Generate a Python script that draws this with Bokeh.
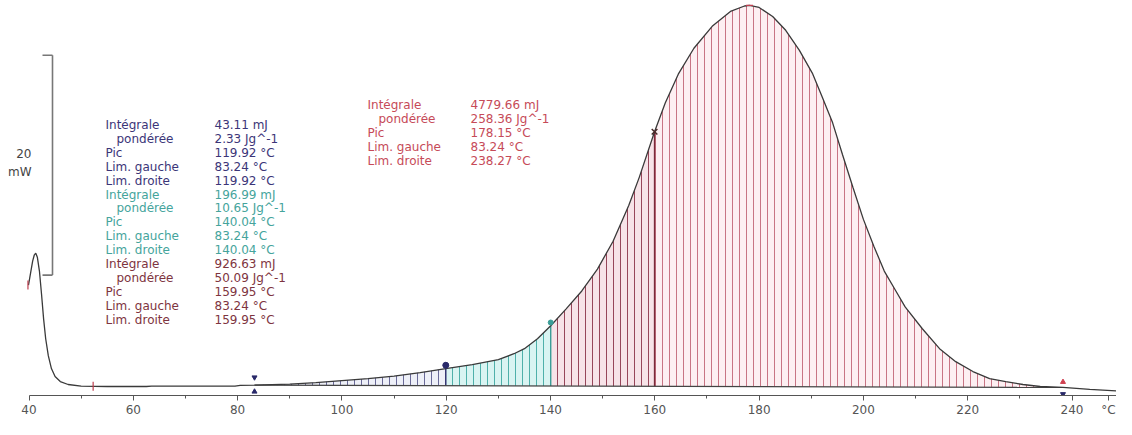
import numpy as np
from bokeh.plotting import figure
from bokeh.models import Range1d, FixedTicker
from bokeh.core.properties import value
from bokeh.embed import file_html
from bokeh.resources import INLINE

# ---------------- data ----------------
temperature_C = [39.9, 40.3, 40.7, 41.0, 41.3, 41.6, 42.0, 42.4, 42.8, 43.2, 43.7, 44.3,
                 45.0, 46.0, 47.5, 50.0, 55.0, 62.5, 63.5, 79.5, 80.5, 83.24, 90.0, 95.0,
                 100.0, 105.0, 110.0, 115.0, 119.92, 125.0, 130.0, 133.0, 135.0, 137.5,
                 140.04, 143.0, 146.0, 149.0, 152.0, 155.0, 157.0, 159.95, 162.0, 164.5,
                 167.5, 171.0, 174.5, 177.2, 178.15, 180.0, 182.6, 185.1, 187.7, 190.2,
                 192.1, 194.1, 196.0, 198.0, 200.0, 202.0, 204.0, 206.0, 208.0, 211.3,
                 214.6, 217.7, 221.0, 224.2, 227.3, 230.6, 233.9, 238.27, 243.4, 250.0]
heat_flow_mW = [8.96, 10.05, 11.13, 11.67, 11.86, 11.49, 10.23, 8.14, 5.88, 4.07, 2.53, 1.36,
                0.63, 0.18, -0.09, -0.23, -0.27, -0.27, -0.23, -0.23, -0.16, -0.14, -0.05, 0.09,
                0.27, 0.45, 0.68, 1.00, 1.36, 1.72, 2.17, 2.71, 3.17, 4.07,
                5.25, 6.79, 8.42, 10.41, 12.94, 16.20, 18.73, 22.90, 25.52, 28.14,
                30.50, 32.49, 33.85, 34.34, 34.39, 34.21, 33.39, 32.13, 30.32, 28.24,
                26.06, 23.71, 20.81, 17.83, 14.93, 12.49, 10.23, 8.60, 6.97, 4.98,
                3.17, 1.99, 1.09, 0.45, 0.18, -0.09, -0.27, -0.36, -0.54, -0.72]

limits_C = [83.24, 119.92, 140.04, 159.95, 238.27]
peak_C = 178.15
baseline_T = [83.24, 238.27]
baseline_mW = [-0.14, -0.36]
start_mark_C = 39.8
event_mark_C = 52.3
scale_bar_mW = 20
scale_bar_text = ["20", "mW"]

x_ticks = [40, 60, 80, 100, 120, 140, 160, 180, 200, 220, 240]
x_minor = [50, 70, 90, 110, 130, 150, 170, 190, 210, 230]
unit_tick = 247
unit_label = "°C"

row_labels = ["Intégrale", "pondérée", "Pic", "Lim. gauche", "Lim. droite"]
values_blue = ["43.11 mJ", "2.33 Jg^-1", "119.92 °C", "83.24 °C", "119.92 °C"]
values_teal = ["196.99 mJ", "10.65 Jg^-1", "140.04 °C", "83.24 °C", "140.04 °C"]
values_maroon = ["926.63 mJ", "50.09 Jg^-1", "159.95 °C", "83.24 °C", "159.95 °C"]
values_red = ["4779.66 mJ", "258.36 Jg^-1", "178.15 °C", "83.24 °C", "238.27 °C"]

# ---------------- layout ----------------
W, H = 1116, 419
X0, X1 = 34.535, 248.53
Y0, Y1 = -1.09, 34.84
FRAME_H = 397.0


def dx(px):
    return X0 + (px - 8) * (X1 - X0) / W


def dy(py):
    return Y1 - (py - 8) * (Y1 - Y0) / FRAME_H


T = np.array(temperature_C)
Q = np.array(heat_flow_mW)


def base(t):
    return np.interp(t, baseline_T, baseline_mW)


def curve_at(t):
    return float(np.interp(t, T, Q))


p = figure(width=W, height=H, x_range=Range1d(X0, X1), y_range=Range1d(Y0, Y1),
           output_backend="svg", toolbar_location=None, y_axis_location=None,
           min_border_left=0, min_border_right=0, min_border_top=0, min_border_bottom=0,
           background_fill_color="white", border_fill_color="white",
           outline_line_color=None)
p.grid.visible = False

ax = p.xaxis[0]
ax.ticker = FixedTicker(ticks=x_ticks + [unit_tick], minor_ticks=x_minor)
ax.major_label_overrides = {unit_tick: unit_label}
ax.bounds = (40, X1)
ax.axis_line_color = "#555555"
ax.major_tick_line_color = "#555555"
ax.minor_tick_line_color = "#555555"
ax.major_tick_out = 5
ax.major_tick_in = 0
ax.minor_tick_out = 3
ax.minor_tick_in = 0
ax.major_label_standoff = 2
ax.major_label_text_font = "DejaVu Sans"
ax.major_label_text_font_size = "12px"
ax.major_label_text_color = "#555555"

# ---------------- hatched integration areas ----------------
regions = [
    (limits_C[0], limits_C[1], "#eef0f8", "#6a6a98"),
    (limits_C[1], limits_C[2], "#d9f4f2", "#4fb0aa"),
    (limits_C[2], limits_C[3], "#f7e3e8", "#97465a"),
    (limits_C[3], limits_C[4], "#fdeff2", "#c87484"),
]
for lo, hi, fill, hatch in regions:
    m = (T >= lo) & (T <= hi)
    xs = T[m]
    p.varea(x=xs, y1=base(xs), y2=Q[m], fill_color=fill, fill_alpha=1.0,
            hatch_pattern="vertical_line", hatch_color=hatch, hatch_scale=7,
            hatch_weight=1)

# boundary lines
bcolors = ["#2e2e6e", "#2e2e6e", "#3a9e98", "#7a2a3a", "#c04050"]
for t, c in zip(limits_C, bcolors):
    p.segment(x0=[t], y0=[float(base(t))], x1=[t], y1=[curve_at(t)], line_color=c,
              line_width=1.4)

# integration baseline
p.line(x=baseline_T, y=baseline_mW, line_color="#444444", line_width=1.2)

# curve
p.line(x=temperature_C, y=heat_flow_mW, line_color="#3a3a3a", line_width=1.3)

# ---------------- markers ----------------
p.scatter(x=[start_mark_C], y=[curve_at(temperature_C[0])], marker="dash", angle=np.pi / 2,
          size=9, line_color="#c04050", line_width=1.2)
p.scatter(x=[event_mark_C], y=[curve_at(event_mark_C)], marker="dash", angle=np.pi / 2,
          size=9, line_color="#c04050", line_width=1.2)
# left limit
b0 = float(base(limits_C[0]))
p.scatter(x=[limits_C[0]], y=[b0 + 0.7], marker="inverted_triangle", size=5,
          color="#2a2a6a")
p.scatter(x=[limits_C[0]], y=[b0 - 0.6], marker="triangle", size=5, color="#2a2a6a")
# peaks
p.scatter(x=[limits_C[1]], y=[curve_at(limits_C[1]) + 0.3], marker="circle_cross", size=6,
          line_color="#2a2a6a", fill_color="#2a2a6a")
p.scatter(x=[limits_C[2]], y=[curve_at(limits_C[2]) + 0.3], marker="circle", size=5,
          line_color="#3a9e98", fill_color="#3a9e98")
p.scatter(x=[limits_C[3]], y=[curve_at(limits_C[3])], marker="x", size=8,
          line_color="#4a2a2a", line_width=1.5)
p.scatter(x=[peak_C], y=[curve_at(peak_C)], marker="dash", size=7,
          line_color="#c04050", line_width=1.2)
# right limit
b1 = float(base(limits_C[4]))
p.scatter(x=[limits_C[4]], y=[b1 + 0.5], marker="triangle", size=5, color="#d04050")
p.scatter(x=[limits_C[4]], y=[b1 - 0.6], marker="inverted_triangle", size=5,
          color="#2a2a6a")

# ---------------- scale bar ----------------
bar_bottom = 9.86
bx, bs = dx(60), dx(50)
p.segment(x0=[bx, bs, bs], y0=[bar_bottom, bar_bottom + scale_bar_mW, bar_bottom],
          x1=[bx, bx, bx], y1=[bar_bottom + scale_bar_mW, bar_bottom + scale_bar_mW, bar_bottom],
          line_color="#777777", line_width=1.6)
p.text(x=[dx(39), dx(39)], y=[dy(162), dy(180)], text=scale_bar_text,
       text_font=value("DejaVu Sans"), text_font_size="12px", text_color="#444444",
       text_align="right", text_baseline="middle")

# ---------------- text blocks ----------------
indent = [0, 11, 0, 0, 0]
step = 14.0


def block(x_lab, x_val, y_top, vals, color):
    ys = [dy(y_top + i * step) for i in range(5)]
    p.text(x=[dx(x_lab + d) for d in indent], y=ys, text=row_labels,
           text_font=value("DejaVu Sans"), text_font_size="12px", text_color=color,
           text_align="left", text_baseline="middle")
    p.text(x=[dx(x_val)] * 5, y=ys, text=vals,
           text_font=value("DejaVu Sans"), text_font_size="12px", text_color=color,
           text_align="left", text_baseline="middle")


block(113, 222, 133, values_blue, "#3b3578")
block(113, 222, 133 + 5 * step, values_teal, "#45a49c")
block(113, 222, 133 + 10 * step, values_maroon, "#7e3440")
block(375, 478, 113, values_red, "#c64a58")

open("out.html", "w").write(file_html(p, INLINE))
